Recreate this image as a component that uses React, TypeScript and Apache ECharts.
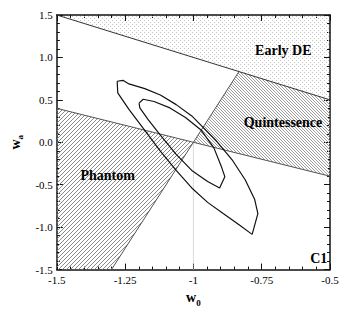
import React, { useEffect, useRef } from "react";
import * as echarts from "echarts";

const FONT = '"Liberation Serif", "Times New Roman", serif';

// Axis ranges and ticks
const xMin = -1.5;
const xMax = -0.5;
const xStep = 0.25;
const yMin = -1.5;
const yMax = 1.5;
const yStep = 0.5;
const xTickLabels = ["-1.5", "-1.25", "-1", "-0.75", "-0.5"];
const yTickLabels = ["-1.5", "-1.0", "-0.5", "0.0", "0.5", "1.0", "1.5"];

// Shaded regions (w0, wa vertices)
const earlyDERegion: number[][] = [[-1.5, 1.5], [-0.5, 1.5], [-0.5, 0.5]];
const quintessenceRegion: number[][] = [[-1, 0], [-0.8333, 0.8333], [-0.5, 0.5], [-0.5, -0.4]];
const phantomRegion: number[][] = [[-1.5, 0.4], [-1, 0], [-1.3, -1.5], [-1.5, -1.5]];

// Boundary lines
const earlyDELine: number[][] = [[-1.5, 1.5], [-0.5, 0.5]];
const crossingLine: number[][] = [[-1.5, 0.4], [-0.5, -0.4]];
const steepLine: number[][] = [[-1.3, -1.5], [-0.8333, 0.8333]];
const lambdaLine: number[][] = [[-1, -1.5], [-1, 0]];

// Confidence contours
const outerContour: number[][] = [
  [-1.279, 0.719], [-1.258, 0.73], [-1.236, 0.688], [-1.178, 0.632], [-1.121, 0.557],
  [-1.063, 0.444], [-1.006, 0.311], [-0.96, 0.161], [-0.914, 0.009], [-0.856, -0.217],
  [-0.81, -0.444], [-0.776, -0.67], [-0.764, -0.84], [-0.785, -1.085], [-0.833, -0.972],
  [-0.891, -0.84], [-0.948, -0.708], [-1.006, -0.538], [-1.063, -0.331], [-1.121, -0.104],
  [-1.178, 0.141], [-1.236, 0.387], [-1.277, 0.583], [-1.279, 0.719],
];
const innerContour: number[][] = [
  [-1.199, 0.462], [-1.184, 0.507], [-1.144, 0.481], [-1.086, 0.405], [-1.029, 0.292],
  [-0.971, 0.141], [-0.925, -0.066], [-0.897, -0.292], [-0.885, -0.405], [-0.904, -0.538],
  [-0.948, -0.462], [-1.006, -0.331], [-1.063, -0.142], [-1.121, 0.085], [-1.167, 0.274],
  [-1.196, 0.405], [-1.199, 0.462],
];

// Region labels
const labelNames = ["Early DE", "Quintessence", "Phantom", "C1"];
const labelW0 = [-0.671, -0.672, -1.314, -0.541];
const labelWa = [1.081, 0.232, -0.39, -1.364];

function makePattern(size: number, pixels: number[][], color: string) {
  const c = document.createElement("canvas");
  c.width = size;
  c.height = size;
  const ctx = c.getContext("2d")!;
  ctx.fillStyle = color;
  pixels.forEach(([x, y]) => ctx.fillRect(x, y, 1, 1));
  return { image: c, repeat: "repeat", imageWidth: size, imageHeight: size };
}

export default function App() {
  const ref = useRef<HTMLDivElement>(null);
  useEffect(() => {
    document.body.style.margin = "0";
    if (!ref.current) return;
    const chart = echarts.init(ref.current, null, { renderer: "svg" });

    const dotPattern = makePattern(4, [[0, 0], [2, 2]], "#c4c4c4");
    const backPattern = makePattern(3, [[0, 0], [1, 1], [2, 2]], "#9c9c9c");
    const fwdPattern = makePattern(4, [[0, 3], [1, 2], [2, 1], [3, 0]], "#8a8a8a");

    const regions = [earlyDERegion, quintessenceRegion, phantomRegion];
    const fills = [dotPattern, backPattern, fwdPattern];

    const axisCommon = {
      type: "value",
      axisLine: { show: true, onZero: false, lineStyle: { color: "#111", width: 1.5 } },
      axisTick: { show: true, inside: true, length: 6, lineStyle: { color: "#111", width: 1 } },
      minorTick: { show: true, splitNumber: 5, length: 3, lineStyle: { color: "#111", width: 1 } },
      splitLine: { show: false },
      minorSplitLine: { show: false },
    };

    const xLabelFmt = (v: number) => xTickLabels[Math.round((v - xMin) / xStep)] ?? "";
    const yLabelFmt = (v: number) => yTickLabels[Math.round((v - yMin) / yStep)] ?? "";

    const nameRich = {
      w: { fontFamily: FONT, fontSize: 14, fontWeight: "bold", color: "#000", padding: [0, 0, 3, 0] },
      s: { fontFamily: FONT, fontSize: 9, fontWeight: "bold", color: "#000", padding: [7, 0, 0, 0] },
    };

    const lineSeries = (data: number[][], color: string, width: number, type: string = "solid") => ({
      type: "line",
      data,
      symbol: "none",
      silent: true,
      lineStyle: { color, width, type },
      z: 3,
    });

    chart.setOption({
      animation: false,
      backgroundColor: "#fff",
      grid: { left: 40, right: 16, top: 15, bottom: 32, containLabel: false },
      xAxis: [
        {
          ...axisCommon,
          min: xMin,
          max: xMax,
          interval: xStep,
          position: "bottom",
          axisLabel: { fontFamily: FONT, fontSize: 11, color: "#000", margin: 5, formatter: xLabelFmt },
          name: "{w|w}{s|0}",
          nameLocation: "middle",
          nameGap: 17,
          nameTextStyle: { rich: nameRich },
        },
        {
          ...axisCommon,
          min: xMin,
          max: xMax,
          interval: xStep,
          position: "top",
          axisLabel: { show: false },
        },
      ],
      yAxis: [
        {
          ...axisCommon,
          min: yMin,
          max: yMax,
          interval: yStep,
          position: "left",
          axisLabel: { fontFamily: FONT, fontSize: 11, color: "#000", margin: 4, formatter: yLabelFmt },
          name: "{w|w}{s|a}",
          nameLocation: "middle",
          nameGap: 27,
          nameRotate: 90,
          nameTextStyle: { rich: nameRich },
        },
        {
          ...axisCommon,
          min: yMin,
          max: yMax,
          interval: yStep,
          position: "right",
          axisLabel: { show: false },
        },
      ],
      series: [
        {
          type: "custom",
          coordinateSystem: "cartesian2d",
          silent: true,
          z: 1,
          data: regions.map((poly, i) => [poly[0][0], poly[0][1], i]),
          renderItem: (params: any, api: any) => {
            const i = params.dataIndex;
            const pts = regions[i].map((p) => api.coord(p));
            return {
              type: "polygon",
              shape: { points: pts },
              style: { fill: fills[i], stroke: null },
            };
          },
        },
        lineSeries(lambdaLine, "#b5b5b5", 1, "dotted"),
        lineSeries(earlyDELine, "#333", 1),
        lineSeries(crossingLine, "#555", 1),
        lineSeries(steepLine, "#555", 1),
        lineSeries(outerContour, "#111", 1.2),
        lineSeries(innerContour, "#111", 1.2),
        {
          type: "custom",
          coordinateSystem: "cartesian2d",
          silent: true,
          z: 5,
          data: labelNames.map((_, i) => [labelW0[i], labelWa[i]]),
          renderItem: (params: any, api: any) => {
            const p = api.coord([api.value(0), api.value(1)]);
            return {
              type: "text",
              x: p[0],
              y: p[1],
              style: {
                text: labelNames[params.dataIndex],
                font: `bold 14px ${FONT}`,
                fill: "#000",
                align: "center",
                verticalAlign: "middle",
              },
            };
          },
        },
      ],
    });
    return () => chart.dispose();
  }, []);
  return <div ref={ref} style={{ width: 346, height: 312 }} />;
}
